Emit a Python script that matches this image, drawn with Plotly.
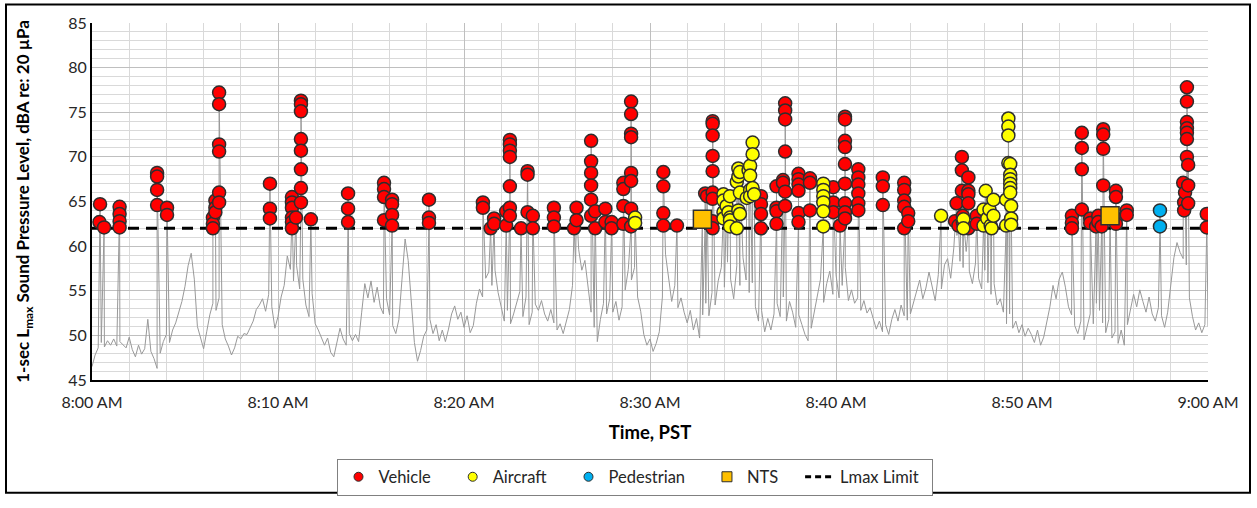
import pandas as pd
import plotly.graph_objects as go

# ---------------- data ----------------
DAY = "2024-01-01"
T_START, T_END = "08:00:00", "09:00:00"
LMAX_LIMIT = 62.0
BG_STEP = "10s"

# 1-sec Lmax background level, read every 10 s (one row per minute)
background_db = [
    46.5, 47.8, 48.6, 49.2, 48.7, 49.4,   # 8:00
    48.9, 49.6, 48.8, 49.3, 49.0, 48.6,   # 8:01
    49.8, 48.4, 47.6, 48.9, 47.9, 48.5,   # 8:02
    51.8, 48.2, 47.4, 46.3, 48.0, 49.3,   # 8:03
    50.1, 49.2, 50.6, 51.4, 52.6, 53.8,   # 8:04
    55.5, 57.8, 59.2, 56.3, 51.0, 49.6,   # 8:05
    48.5, 50.4, 52.3, 53.6, 52.8, 54.2,   # 8:06
    51.2, 49.6, 48.8, 47.8, 48.6, 49.9,   # 8:07
    49.6, 50.2, 50.1, 50.8, 51.6, 52.9,   # 8:08
    53.4, 54.1, 52.7, 54.6, 53.2, 50.8,   # 8:09
    52.1, 54.3, 55.6, 58.9, 57.4, 56.1,   # 8:10
    57.8, 55.2, 56.3, 53.4, 52.1, 54.7,   # 8:11
    51.3, 50.6, 49.8, 48.9, 49.7, 48.1,   # 8:12
    47.6, 49.3, 50.8, 49.6, 48.9, 50.2,   # 8:13
    49.4, 50.1, 49.3, 52.6, 55.8, 54.2,   # 8:14
    56.1, 53.7, 55.4, 53.2, 52.4, 54.1,   # 8:15
    52.3, 51.1, 50.2, 51.8, 56.3, 60.8,   # 8:16
    58.4, 53.6, 49.2, 47.1, 48.3, 49.9,   # 8:17
    50.6, 51.8, 50.2, 51.2, 49.4, 50.6,   # 8:18
    49.3, 50.7, 52.4, 53.3, 51.8, 52.6,   # 8:19
    50.9, 52.2, 50.3, 51.1, 53.6, 55.2,   # 8:20
    54.3, 56.4, 57.1, 55.6, 57.3, 54.8,   # 8:21
    53.2, 51.6, 52.8, 51.3, 52.4, 53.6,   # 8:22
    54.9, 52.1, 54.3, 51.2, 52.6, 53.5,   # 8:23
    52.8, 53.9, 52.4, 51.6, 52.9, 51.4,   # 8:24
    50.6, 51.3, 50.2, 51.7, 52.9, 55.6,   # 8:25
    58.1, 59.6, 57.3, 58.4, 55.2, 52.6,   # 8:26
    50.9, 49.3, 51.8, 53.6, 52.4, 54.1,   # 8:27
    52.6, 53.8, 51.7, 53.2, 55.1, 57.4,   # 8:28
    56.2, 57.6, 54.3, 52.7, 50.1, 48.9,   # 8:29
    49.6, 48.2, 49.1, 50.4, 54.3, 59.1,   # 8:30
    56.2, 53.8, 55.6, 53.1, 54.2, 52.6,   # 8:31
    51.4, 52.8, 50.6, 51.9, 49.7, 52.3,   # 8:32
    53.6, 52.2, 54.8, 53.4, 56.1, 57.6,   # 8:33
    55.4, 58.2, 56.3, 54.1, 57.8, 55.6,   # 8:34
    58.7, 56.2, 54.8, 55.9, 53.2, 51.6,   # 8:35
    52.8, 50.4, 51.9, 50.6, 52.4, 53.6,   # 8:36
    52.1, 54.3, 51.6, 53.8, 52.6, 50.9,   # 8:37
    52.3, 51.2, 50.1, 49.4, 50.8, 52.6,   # 8:38
    54.1, 56.3, 53.7, 55.8, 57.2, 54.6,   # 8:39
    56.8, 54.2, 55.6, 57.6, 53.9, 55.1,   # 8:40
    53.6, 54.2, 52.8, 53.9, 52.5, 53.1,   # 8:41
    51.9, 50.7, 51.6, 50.4, 51.2, 50.1,   # 8:42
    51.8, 52.9, 51.6, 53.4, 52.2, 51.7,   # 8:43
    52.4, 53.6, 54.8, 56.2, 54.1, 55.3,   # 8:44
    57.1, 55.6, 53.9, 56.8, 55.2, 57.9,   # 8:45
    58.6, 56.4, 59.8, 61.2, 58.3, 57.6,   # 8:46
    59.4, 57.2, 55.8, 58.1, 56.4, 55.2,   # 8:47
    57.3, 55.9, 54.6, 55.8, 53.4, 54.1,   # 8:48
    52.6, 51.3, 52.4, 50.8, 51.6, 50.3,   # 8:49
    51.2, 49.9, 50.8, 50.1, 49.2, 50.6,   # 8:50
    48.9, 49.8, 51.4, 53.2, 55.6, 54.1,   # 8:51
    56.3, 57.1, 55.4, 53.2, 52.3, 51.1,   # 8:52
    50.2, 51.6, 49.5, 50.8, 52.4, 51.3,   # 8:53
    53.6, 52.8, 51.4, 50.3, 51.8, 49.7,   # 8:54
    50.4, 49.1, 50.6, 48.9, 51.2, 52.8,   # 8:55
    54.6, 53.2, 55.1, 53.8, 52.6, 54.3,   # 8:56
    52.4, 51.6, 53.1, 52.2, 50.9, 52.6,   # 8:57
    55.4, 58.7, 60.4, 59.3, 58.6, 57.9,   # 8:58
    54.2, 52.1, 50.6, 51.4, 50.3, 51.2,   # 8:59
    51.0,                                 # 9:00
]

# identified events: (time, 1-sec Lmax dBA)
vehicle = [
    ("08:00:24", 62.7), ("08:00:26", 64.7), ("08:00:39", 62.1),
    ("08:01:29", 64.4), ("08:01:29", 63.6), ("08:01:29", 62.8), ("08:01:29", 62.1),
    ("08:03:30", 68.2), ("08:03:30", 67.8), ("08:03:30", 66.3), ("08:03:30", 64.6),
    ("08:04:02", 64.3), ("08:04:02", 63.5),
    ("08:06:30", 63.2), ("08:06:30", 62.5), ("08:06:30", 62.0),
    ("08:06:38", 65.1), ("08:06:38", 64.3), ("08:06:38", 63.8),
    ("08:06:50", 77.2), ("08:06:50", 75.9), ("08:06:50", 71.4), ("08:06:50", 70.6),
    ("08:06:50", 66.0), ("08:06:50", 64.9),
    ("08:09:34", 67.0), ("08:09:34", 64.2), ("08:09:34", 63.1),
    ("08:10:45", 65.5), ("08:10:45", 64.9), ("08:10:45", 64.3), ("08:10:45", 63.2),
    ("08:10:45", 62.7), ("08:10:45", 62.0), ("08:10:58", 63.2),
    ("08:11:14", 76.3), ("08:11:14", 75.9), ("08:11:14", 75.1), ("08:11:14", 72.0),
    ("08:11:14", 70.7), ("08:11:14", 68.6), ("08:11:14", 66.5), ("08:11:14", 64.9),
    ("08:11:46", 63.0),
    ("08:13:46", 65.9), ("08:13:46", 64.2), ("08:13:46", 62.7),
    ("08:15:42", 67.1), ("08:15:42", 66.4), ("08:15:42", 65.5), ("08:15:42", 62.9),
    ("08:16:08", 65.2), ("08:16:08", 64.7), ("08:16:08", 63.5), ("08:16:08", 62.3),
    ("08:18:07", 65.2), ("08:18:07", 63.2), ("08:18:07", 62.6),
    ("08:21:01", 64.9), ("08:21:01", 64.3), ("08:21:26", 62.0),
    ("08:21:37", 63.1), ("08:21:37", 62.5),
    ("08:22:16", 63.9), ("08:22:16", 62.3),
    ("08:22:28", 71.9), ("08:22:28", 71.4), ("08:22:28", 70.7), ("08:22:28", 70.0),
    ("08:22:28", 66.7), ("08:22:28", 64.3), ("08:22:28", 63.4),
    ("08:23:04", 62.0), ("08:23:25", 68.4), ("08:23:25", 68.0), ("08:23:25", 63.8),
    ("08:23:42", 63.4), ("08:23:42", 62.0),
    ("08:24:50", 64.3), ("08:24:50", 63.2), ("08:24:50", 62.2),
    ("08:25:55", 62.0), ("08:26:03", 64.3), ("08:26:03", 62.9),
    ("08:26:50", 71.8), ("08:26:50", 69.5), ("08:26:50", 68.2), ("08:26:50", 66.8),
    ("08:26:50", 65.2), ("08:26:50", 63.4), ("08:27:03", 63.9), ("08:27:03", 62.0),
    ("08:27:36", 64.2), ("08:27:36", 62.7), ("08:27:56", 62.7), ("08:27:56", 62.0),
    ("08:28:34", 67.1), ("08:28:34", 66.4), ("08:28:34", 64.5), ("08:28:34", 62.5),
    ("08:28:59", 76.2), ("08:28:59", 74.8), ("08:28:59", 72.6), ("08:28:59", 72.2),
    ("08:28:59", 68.2), ("08:28:59", 67.3), ("08:28:59", 64.2), ("08:28:59", 62.2),
    ("08:30:43", 68.3), ("08:30:43", 66.7), ("08:30:43", 63.7), ("08:30:43", 62.3),
    ("08:31:27", 62.3),
    ("08:32:58", 65.9), ("08:32:58", 63.1), ("08:33:04", 65.6),
    ("08:33:22", 74.0), ("08:33:22", 73.7), ("08:33:22", 72.4), ("08:33:22", 70.1),
    ("08:33:22", 68.4), ("08:33:22", 66.0), ("08:33:22", 65.3), ("08:33:22", 62.8),
    ("08:33:22", 62.0),
    ("08:35:58", 65.6), ("08:35:58", 64.7), ("08:35:58", 63.6), ("08:35:58", 62.0),
    ("08:36:48", 66.7), ("08:36:48", 64.3), ("08:36:48", 63.9), ("08:36:48", 62.5),
    ("08:37:09", 67.4), ("08:37:09", 67.1),
    ("08:37:16", 76.0), ("08:37:16", 75.2), ("08:37:16", 74.2), ("08:37:16", 70.6),
    ("08:37:16", 66.1), ("08:37:16", 64.5),
    ("08:37:59", 68.1), ("08:37:59", 67.5), ("08:37:59", 66.9), ("08:37:59", 66.2),
    ("08:37:59", 63.7), ("08:37:59", 62.7),
    ("08:38:36", 67.6), ("08:38:36", 67.1), ("08:38:36", 64.0),
    ("08:39:51", 66.6), ("08:39:51", 64.9), ("08:39:51", 63.8),
    ("08:40:13", 62.3),
    ("08:40:29", 74.5), ("08:40:29", 74.2), ("08:40:29", 71.8), ("08:40:29", 71.1),
    ("08:40:29", 69.2), ("08:40:29", 67.0), ("08:40:29", 64.8), ("08:40:29", 63.8),
    ("08:40:29", 63.1),
    ("08:41:12", 68.6), ("08:41:12", 67.7), ("08:41:12", 66.9), ("08:41:12", 65.9),
    ("08:41:12", 64.8), ("08:41:12", 64.0),
    ("08:42:31", 67.7), ("08:42:31", 66.7), ("08:42:31", 64.6),
    ("08:43:40", 67.1), ("08:43:40", 66.3), ("08:43:40", 65.1), ("08:43:40", 64.4),
    ("08:43:40", 62.0), ("08:43:53", 63.7), ("08:43:53", 62.8),
    ("08:46:24", 62.8), ("08:46:29", 64.8), ("08:46:35", 62.3),
    ("08:46:46", 70.0), ("08:46:46", 68.5), ("08:46:46", 66.2),
    ("08:46:49", 63.4), ("08:46:49", 62.7),
    ("08:47:07", 67.7), ("08:47:07", 66.2), ("08:47:07", 65.8), ("08:47:07", 64.8),
    ("08:47:07", 62.0),
    ("08:47:34", 63.4), ("08:47:34", 62.5),
    ("08:52:41", 63.4), ("08:52:41", 62.6), ("08:52:41", 62.0),
    ("08:53:13", 72.7), ("08:53:13", 71.0), ("08:53:13", 68.6), ("08:53:13", 64.1),
    ("08:53:40", 63.1), ("08:53:40", 62.6), ("08:53:59", 62.2),
    ("08:54:06", 63.4), ("08:54:06", 62.7), ("08:54:17", 62.2),
    ("08:54:22", 73.1), ("08:54:22", 72.5), ("08:54:22", 70.9), ("08:54:22", 66.8),
    ("08:55:03", 66.2), ("08:55:03", 65.5), ("08:55:03", 63.1), ("08:55:03", 62.5),
    ("08:55:38", 64.0), ("08:55:38", 63.5),
    ("08:58:40", 67.1), ("08:58:43", 64.9), ("08:58:43", 64.0), ("08:58:46", 66.0),
    ("08:58:52", 77.8), ("08:58:52", 76.2), ("08:58:52", 73.9), ("08:58:52", 73.2),
    ("08:58:52", 72.7), ("08:58:52", 72.0), ("08:58:52", 70.0),
    ("08:58:56", 69.1), ("08:58:56", 66.8), ("08:58:56", 64.8),
    ("08:59:56", 63.6), ("08:59:56", 62.1),
]

aircraft = [
    ("08:29:12", 63.2), ("08:29:12", 62.6),
    ("08:33:57", 65.8), ("08:33:57", 65.1), ("08:33:57", 63.8), ("08:33:57", 63.1),
    ("08:34:07", 64.5), ("08:34:13", 63.8),
    ("08:34:18", 65.6), ("08:34:18", 63.2), ("08:34:18", 62.9), ("08:34:18", 62.2),
    ("08:34:40", 67.2), ("08:34:40", 62.0),
    ("08:34:45", 68.7), ("08:34:45", 67.8), ("08:34:45", 64.0),
    ("08:34:50", 68.3), ("08:34:50", 66.0), ("08:34:50", 63.6),
    ("08:35:12", 65.4), ("08:35:18", 68.5),
    ("08:35:23", 69.0), ("08:35:23", 67.9), ("08:35:23", 66.3), ("08:35:23", 65.6),
    ("08:35:31", 71.6), ("08:35:31", 70.3), ("08:35:31", 66.5), ("08:35:36", 65.8),
    ("08:39:19", 67.0), ("08:39:19", 66.3), ("08:39:19", 65.6), ("08:39:19", 64.9),
    ("08:39:19", 63.9), ("08:39:19", 62.2),
    ("08:45:39", 63.4),
    ("08:46:51", 63.0), ("08:46:51", 62.0),
    ("08:47:56", 64.1), ("08:47:56", 62.3), ("08:48:03", 66.2), ("08:48:08", 63.1),
    ("08:48:15", 64.1), ("08:48:19", 62.3), ("08:48:22", 62.0),
    ("08:48:28", 65.2), ("08:48:28", 63.4),
    ("08:49:09", 65.2), ("08:49:09", 62.3),
    ("08:49:16", 74.3), ("08:49:16", 73.4), ("08:49:16", 72.4), ("08:49:16", 69.3),
    ("08:49:22", 69.2), ("08:49:22", 68.0), ("08:49:22", 67.5), ("08:49:22", 67.0),
    ("08:49:22", 66.5), ("08:49:22", 66.0),
    ("08:49:25", 64.5), ("08:49:25", 63.1), ("08:49:25", 62.4),
]

pedestrian = [("08:57:25", 64.0), ("08:57:25", 62.2)]

nts = [("08:32:49", 63.0), ("08:54:44", 63.4)]


# ---------------- build ----------------
def ts(s):
    return pd.Timestamp(f"{DAY} {s}")


def split(events):
    return [ts(t) for t, _ in events], [v for _, v in events]


bg_t = pd.date_range(ts(T_START), periods=len(background_db), freq=BG_STEP)
rows = list(zip(bg_t, background_db))
for grp in (vehicle, aircraft, pedestrian, nts):
    rows += [(ts(t), v) for t, v in grp]
series = pd.DataFrame(rows, columns=["t", "db"]).sort_values(["t", "db"])

FONT = "Lato, 'Open Sans', sans-serif"
OUTLINE = "#2E2E2E"
PAD = "\u00a0" * 4

fig = go.Figure()
fig.add_trace(go.Scatter(
    x=series["t"], y=series["db"], mode="lines",
    line=dict(color="#999999", width=1), showlegend=False, hoverinfo="skip"))
fig.add_trace(go.Scatter(
    x=[ts(T_START), ts(T_END)], y=[LMAX_LIMIT, LMAX_LIMIT], mode="lines",
    line=dict(color="black", width=3, dash="11px,7px"), showlegend=False))

styles = [
    ("Vehicle", vehicle, "circle", "#FF0000", 13),
    ("Aircraft", aircraft, "circle", "#FFFF00", 13),
    ("Pedestrian", pedestrian, "circle", "#00B0F0", 13),
    ("NTS", nts, "square", "#FFC000", 18),
]
for name, ev, sym, col, size in styles:
    x, y = split(ev)
    fig.add_trace(go.Scatter(
        x=x, y=y, mode="markers", name=name, showlegend=False,
        marker=dict(symbol=sym, size=size, color=col,
                    line=dict(color=OUTLINE, width=1.5))))

# legend entries
for name, ev, sym, col, size in styles:
    fig.add_trace(go.Scatter(
        x=[None], y=[None], mode="markers", name=name + PAD,
        marker=dict(symbol=sym, size=9 if sym == "circle" else 10, color=col,
                    line=dict(color=OUTLINE, width=1))))
fig.add_trace(go.Scatter(
    x=[None], y=[None], mode="lines", name="Lmax Limit" + "\u00a0" * 2,
    line=dict(color="black", width=3, dash="6px,4px")))

fig.update_layout(
    width=1257, height=508,
    margin=dict(l=92, r=49, t=23, b=118),
    paper_bgcolor="white", plot_bgcolor="white",
    font=dict(family=FONT, size=16, color="#262626"),
    showlegend=True,
    legend=dict(orientation="h", x=0.487, xanchor="center", y=-0.22, yanchor="top",
                bordercolor="#808080", borderwidth=1, bgcolor="white",
                font=dict(size=16.5, color="#262626"), traceorder="normal"),
    xaxis=dict(
        type="date", range=[ts(T_START), ts(T_END)],
        tick0=ts(T_START), dtick=600000, tickformat="%-I:%M %p",
        showgrid=True, gridcolor="#BFBFBF", gridwidth=1,
        minor=dict(dtick=120000, tick0=ts(T_START), showgrid=True,
                   gridcolor="#D9D9D9", gridwidth=1),
        showline=True, linecolor="black", linewidth=2, zeroline=False,
        ticks="", tickfont=dict(size=16), ticklabelstandoff=7,
        title=dict(text="<b>Time, PST</b>", font=dict(size=18.5, color="black"),
                   standoff=16)),
    yaxis=dict(
        range=[45, 85], tick0=45, dtick=5,
        showgrid=True, gridcolor="#BFBFBF", gridwidth=1,
        minor=dict(dtick=1, showgrid=True, gridcolor="#D9D9D9", gridwidth=1),
        showline=True, linecolor="black", linewidth=2, zeroline=False,
        ticks="", tickfont=dict(size=16),
        title=dict(text="<b>1-sec L<sub>max</sub> Sound Pressure Level, dBA re: 20 µPa</b>",
                   font=dict(size=17, color="black"), standoff=34)),
)

# outer chart frame
fig.add_shape(type="rect", xref="paper", yref="paper",
              x0=(6 - 92) / 1116, x1=(1250 - 92) / 1116,
              y0=(390 - 506) / 367, y1=(390 - 4) / 367,
              line=dict(color="black", width=2), fillcolor="rgba(0,0,0,0)")

fig.write_html("out.html")
